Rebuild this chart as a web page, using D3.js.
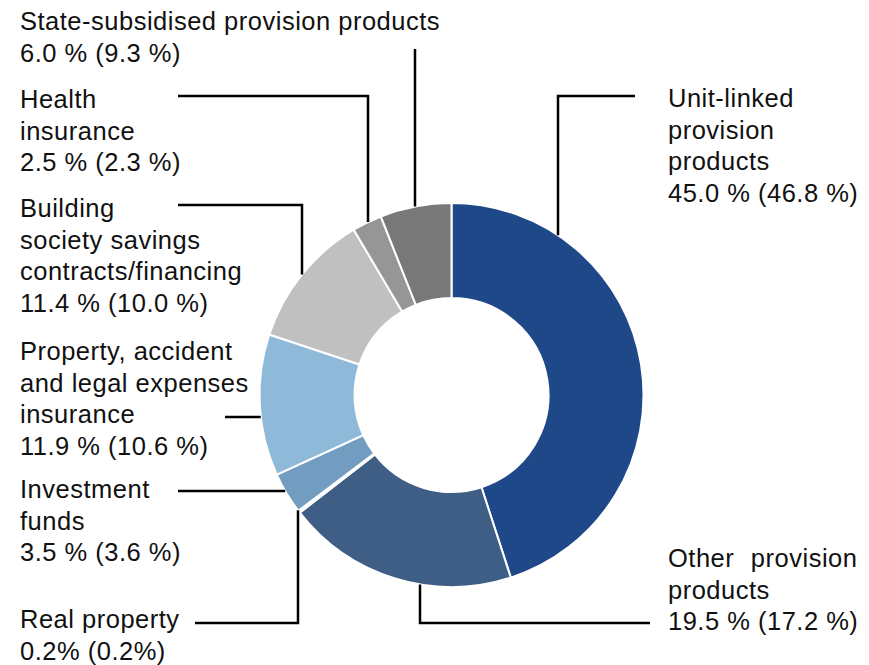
<!DOCTYPE html>
<html>
<head>
<meta charset="utf-8">
<script src="https://cdn.jsdelivr.net/npm/d3@7"></script>
<style>
    body { margin: 0; background: #fff; }
    svg { display: block; font-family: Arial, "Liberation Sans", sans-serif; }
</style>
</head>
<body>
<div id="chart-container"></div>
<script>
// shares of the portfolio, clockwise from 12 o'clock
const categories = [
    'Unit-linked provision products',
    'Other provision products',
    'Real property',
    'Investment funds',
    'Property, accident and legal expenses insurance',
    'Building society savings contracts/financing',
    'Health insurance',
    'State-subsidised provision products'
]
const shares = [45.0, 19.5, 0.2, 3.5, 11.9, 11.4, 2.5, 6.0]
const previousShares = [46.8, 17.2, 0.2, 3.6, 10.6, 10.0, 2.3, 9.3]
const labelLines = [
    ['Unit-linked', 'provision', 'products'],
    ['Other provision', 'products'],
    ['Real property'],
    ['Investment', 'funds'],
    ['Property, accident', 'and legal expenses', 'insurance'],
    ['Building', 'society savings', 'contracts/financing'],
    ['Health', 'insurance'],
    ['State-subsidised provision products']
]
const colours = ['#1f4888', '#3e5e86', '#dce6ef', '#729dc0', '#8fb9d9', '#c0c0c0', '#969696', '#787878']

const width = 869
const height = 665
const cx = 451.5
const cy = 395
const outerRadius = 192
const innerRadius = 97
const lineHeight = 31.5

// label placement: text position and leader line (horizontal from x0 at y, then vertical at x1 to the ring)
const layout = [
    { x: 668, y: 107, leader: { x0: 635, y: 96, x1: 558 } },
    { x: 668, y: 567, leader: { x0: 650, y: 623, x1: 420 }, wordSpacing: 9 },
    { x: 20, y: 628, leader: { x0: 195, y: 623, x1: 298 } },
    { x: 20, y: 498, leader: { x0: 178, y: 491 } },
    { x: 20, y: 360, leader: { x0: 225, y: 417 } },
    { x: 20, y: 217, leader: { x0: 178, y: 205, x1: 302 } },
    { x: 20, y: 108, leader: { x0: 178, y: 96, x1: 368 } },
    { x: 20, y: 30, leader: { x0: 415, y: 49, x1: 415 } }
]

const formatShare = (v, i) => i === 2 ? `${v.toFixed(1)}%` : `${v.toFixed(1)} %`

const data = categories.map((c, i) => ({
    category: c,
    share: shares[i],
    previous: previousShares[i],
    lines: labelLines[i],
    colour: colours[i],
    layout: layout[i]
}))

const svg = d3.select('#chart-container')
    .append('svg')
    .attr('id', 'donut-chart')
    .attr('width', width)
    .attr('height', height)

const pie = d3.pie()
    .value(d => d.share)
    .sort(null)

const arc = d3.arc()
    .innerRadius(innerRadius)
    .outerRadius(outerRadius)

svg.append('g')
    .attr('transform', `translate(${cx},${cy})`)
    .selectAll('path')
    .data(pie(data))
    .join('path')
    .attr('d', arc)
    .attr('fill', d => d.data.colour)
    .attr('stroke', 'white')
    .attr('stroke-width', 2)

// point where the leader line meets the outer ring
const ringPoint = l => {
    if (l.x1 === undefined) {
        const dy = l.y - cy
        return [cx - Math.sqrt(outerRadius ** 2 - dy ** 2), l.y]
    }
    const dx = l.x1 - cx
    const dy = Math.sqrt(outerRadius ** 2 - dx ** 2)
    return [l.x1, l.y < cy ? cy - dy : cy + dy]
}

const leaderPath = d => {
    const l = d.layout.leader
    const end = ringPoint(l)
    if (l.x1 === undefined) return d3.line()([[l.x0, l.y], end])
    return d3.line()([[l.x0, l.y], [l.x1, l.y], end])
}

svg.append('g')
    .attr('class', 'leaders')
    .selectAll('path')
    .data(data)
    .join('path')
    .attr('d', leaderPath)
    .attr('fill', 'none')
    .attr('stroke', '#000')
    .attr('stroke-width', 2.5)
    .attr('stroke-linejoin', 'miter')

const labels = svg.append('g')
    .attr('class', 'labels')
    .selectAll('text')
    .data(data)
    .join('text')
    .attr('x', d => d.layout.x)
    .attr('y', d => d.layout.y)
    .attr('font-size', 25.5)
    .attr('letter-spacing', 0.5)
    .attr('fill', '#111')

labels.each(function (d, i) {
    const text = d3.select(this)
    const lines = [...d.lines, `${formatShare(d.share, i)} (${formatShare(d.previous, i)})`]
    lines.forEach((line, j) => {
        text.append('tspan')
            .attr('x', d.layout.x)
            .attr('dy', j === 0 ? 0 : lineHeight)
            .attr('word-spacing', j === 0 && d.layout.wordSpacing ? d.layout.wordSpacing : null)
            .text(line)
    })
})
</script>
</body>
</html>
